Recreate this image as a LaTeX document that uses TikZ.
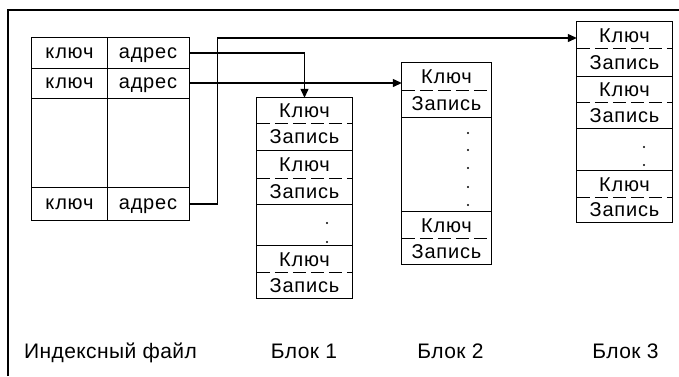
\documentclass[tikz,border=0pt]{standalone}
\usepackage{fontspec}
\setmainfont{Liberation Sans}
\newfontfamily\cellfont[LetterSpace=4]{Liberation Sans}
\newfontfamily\lblfont[LetterSpace=2]{Liberation Sans}
\usetikzlibrary{arrows.meta}
\begin{document}
\begin{tikzpicture}[x=1pt,y=-1pt,
  box/.style={line width=1.2pt},
  icell/.style={draw=none, inner sep=0pt, text height=10.4pt, text depth=0pt, font=\cellfont\fontsize{20}{24}\selectfont},
  cell/.style={draw=none, inner sep=0pt, text height=14pt, text depth=0pt, font=\cellfont\fontsize{20}{24}\selectfont},
  sep/.style={line width=1.2pt, dash pattern=on 13pt off 5pt},
  lbl/.style={inner sep=0pt, text height=15pt, text depth=0pt, font=\lblfont\fontsize{21}{25}\selectfont},
  arr/.style={line width=1.2pt, -{Triangle[length=9pt,width=8pt]}},
  dotm/.style={fill, circle, inner sep=0pt, minimum size=2.2pt}
]
\useasboundingbox (0,0) rectangle (679,376);
\draw[line width=2pt] (8,376) -- (8,10) -- (679,10);

% index file
\node[icell, minimum width=75pt, minimum height=30pt] (k1) at (69.5,53) {ключ};
\node[icell, minimum width=82pt, minimum height=30pt] (a1) at (148,53) {адрес};
\node[icell, minimum width=75pt, minimum height=30pt] (k2) at (69.5,83) {ключ};
\node[icell, minimum width=82pt, minimum height=30pt] (a2) at (148,83) {адрес};
\node[icell, minimum width=75pt, minimum height=32pt] (k3) at (69.5,204) {ключ};
\node[icell, minimum width=82pt, minimum height=32pt] (a3) at (148,204) {адрес};
\draw[box] (k1.north west) rectangle (a3.south east);
\draw[box] (k1.south west) -- (a1.south east);
\draw[box] (k2.south west) -- (a2.south east);
\draw[box] (k3.north west) -- (a3.north east);
\draw[box] (k1.north east) -- (k3.south east);

% block 1
\node[cell, minimum width=95pt, minimum height=25pt] (b1k1) at (304.5,110.5) {Ключ};
\node[cell, minimum width=95pt, minimum height=27pt] (b1r1) at (304.5,136.5) {Запись};
\node[cell, minimum width=95pt, minimum height=28pt] (b1k2) at (304.5,164) {Ключ};
\node[cell, minimum width=95pt, minimum height=26pt] (b1r2) at (304.5,191) {Запись};
\node[cell, minimum width=95pt, minimum height=26pt] (b1k3) at (304.5,259) {Ключ};
\node[cell, minimum width=95pt, minimum height=26pt] (b1r3) at (304.5,285) {Запись};
\draw[box] (b1k1.north west) rectangle (b1r3.south east);
\draw[sep] (b1k1.south west) -- (b1k1.south east);
\draw[box] (b1r1.south west) -- (b1r1.south east);
\draw[sep] (b1k2.south west) -- (b1k2.south east);
\draw[box] (b1r2.south west) -- (b1r2.south east);
\draw[box] (b1k3.north west) -- (b1k3.north east);
\draw[sep] (b1k3.south west) -- (b1k3.south east);
\node[dotm] (b1d1) at (327,223) {};
\node[dotm] (b1d2) at (327,242) {};

% block 2
\node[cell, minimum width=89pt, minimum height=27pt] (b2k1) at (446.5,76.5) {Ключ};
\node[cell, minimum width=89pt, minimum height=27pt] (b2r1) at (446.5,103.5) {Запись};
\node[cell, minimum width=89pt, minimum height=26pt] (b2k2) at (446.5,225) {Ключ};
\node[cell, minimum width=89pt, minimum height=26pt] (b2r2) at (446.5,251) {Запись};
\draw[box] (b2k1.north west) rectangle (b2r2.south east);
\draw[sep] (b2k1.south west) -- (b2k1.south east);
\draw[box] (b2r1.south west) -- (b2r1.south east);
\draw[box] (b2k2.north west) -- (b2k2.north east);
\draw[sep] (b2k2.south west) -- (b2k2.south east);
\foreach \yy/\nn in {133/1,150/2,168/3,187/4,205/5}
  \node[dotm] (b2d\nn) at (468,\yy) {};

% block 3
\node[cell, minimum width=95pt, minimum height=26pt] (b3k1) at (624.5,35) {Ключ};
\node[cell, minimum width=95pt, minimum height=28pt] (b3r1) at (624.5,62) {Запись};
\node[cell, minimum width=95pt, minimum height=26pt] (b3k2) at (624.5,89) {Ключ};
\node[cell, minimum width=95pt, minimum height=26pt] (b3r2) at (624.5,115) {Запись};
\node[cell, minimum width=95pt, minimum height=26pt] (b3k3) at (624.5,184) {Ключ};
\node[cell, minimum width=95pt, minimum height=25pt] (b3r3) at (624.5,209.5) {Запись};
\draw[box] (b3k1.north west) rectangle (b3r3.south east);
\draw[sep] (b3k1.south west) -- (b3k1.south east);
\draw[box] (b3r1.south west) -- (b3r1.south east);
\draw[sep] (b3k2.south west) -- (b3k2.south east);
\draw[box] (b3r2.south west) -- (b3r2.south east);
\draw[box] (b3k3.north west) -- (b3k3.north east);
\draw[sep] (b3k3.south west) -- (b3k3.south east);
\node[dotm] (b3d1) at (644,147) {};
\node[dotm] (b3d2) at (644,165) {};

% arrows
\draw[arr] (a1.east) -| (b1k1.north);
\draw[arr] (a2.east) -- (a2.east -| b2k1.west);
\draw[arr] (a3.east) -- ++(28,0) |- ([yshift=-3pt]b3k1.west);

% labels
\node[lbl] (l0) at (110.5,350.5) {Индексный файл};
\node[lbl] (l1) at (304,350.5) {Блок 1};
\node[lbl] (l2) at (450.5,350.5) {Блок 2};
\node[lbl] (l3) at (625.5,350.5) {Блок 3};
\end{tikzpicture}
\end{document}
